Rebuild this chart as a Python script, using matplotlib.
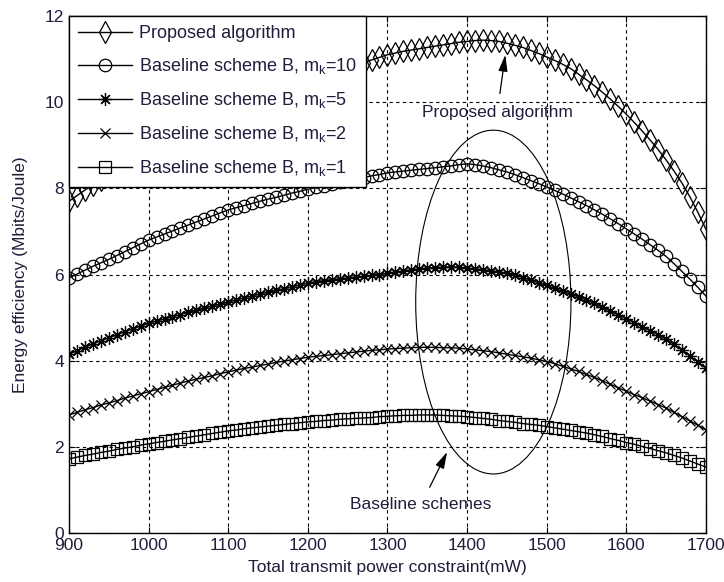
import numpy as np
import matplotlib
matplotlib.use("Agg")
import matplotlib.pyplot as plt
from matplotlib.patches import Ellipse

plt.rcParams['font.family'] = ['Liberation Sans', 'DejaVu Sans']
plt.rcParams['mathtext.fontset'] = 'custom'
plt.rcParams['mathtext.rm'] = 'Liberation Sans'

TXT = '#1e1e3c'

# total transmit power constraint (mW), one point every 10 mW
power = np.arange(900, 1701, 10)

proposed = [7.70, 7.83, 7.96, 8.08, 8.20, 8.31, 8.43, 8.55, 8.67, 8.78, 8.89,
            8.99, 9.09, 9.19, 9.29, 9.39, 9.48, 9.57, 9.66, 9.75, 9.84,
            9.92, 10.00, 10.07, 10.14, 10.21, 10.28, 10.34, 10.40, 10.45, 10.50,
            10.56, 10.62, 10.68, 10.74, 10.80, 10.86, 10.92, 10.98, 11.04, 11.10,
            11.14, 11.18, 11.21, 11.24, 11.27, 11.30, 11.33, 11.36, 11.39, 11.41,
            11.43, 11.44, 11.43, 11.41, 11.37, 11.32, 11.27, 11.20, 11.13, 11.05,
            10.97, 10.88, 10.78, 10.65, 10.52, 10.38, 10.23, 10.07, 9.90, 9.72,
            9.53, 9.33, 9.12, 8.90, 8.66, 8.40, 8.12, 7.80, 7.44, 7.05]

mk10 = [5.92, 6.01, 6.10, 6.19, 6.27, 6.35, 6.44, 6.53, 6.62, 6.71, 6.80,
        6.87, 6.94, 7.01, 7.08, 7.15, 7.22, 7.29, 7.36, 7.43, 7.50,
        7.55, 7.60, 7.65, 7.70, 7.75, 7.79, 7.84, 7.89, 7.93, 7.98,
        8.02, 8.06, 8.10, 8.14, 8.18, 8.21, 8.25, 8.29, 8.32, 8.36,
        8.38, 8.40, 8.42, 8.44, 8.46, 8.48, 8.50, 8.52, 8.55, 8.57,
        8.55, 8.52, 8.48, 8.43, 8.38, 8.32, 8.25, 8.18, 8.11, 8.03,
        7.95, 7.87, 7.78, 7.69, 7.60, 7.50, 7.40, 7.29, 7.18, 7.06,
        6.94, 6.82, 6.69, 6.56, 6.42, 6.25, 6.07, 5.89, 5.70, 5.50]

mk5 = [4.15, 4.23, 4.31, 4.39, 4.46, 4.53, 4.60, 4.67, 4.74, 4.80, 4.87,
       4.92, 4.97, 5.02, 5.07, 5.12, 5.17, 5.22, 5.27, 5.31, 5.36,
       5.41, 5.46, 5.50, 5.55, 5.59, 5.63, 5.67, 5.71, 5.76, 5.80,
       5.83, 5.86, 5.88, 5.90, 5.92, 5.94, 5.96, 5.98, 6.00, 6.03,
       6.06, 6.08, 6.11, 6.13, 6.15, 6.16, 6.17, 6.18, 6.17, 6.15,
       6.13, 6.11, 6.09, 6.06, 6.03, 5.98, 5.93, 5.87, 5.81, 5.75,
       5.68, 5.61, 5.55, 5.48, 5.41, 5.33, 5.24, 5.15, 5.06, 4.97,
       4.88, 4.79, 4.69, 4.60, 4.50, 4.38, 4.25, 4.11, 3.97, 3.82]

mk2 = [2.74, 2.80, 2.86, 2.91, 2.97, 3.02, 3.07, 3.13, 3.18, 3.23, 3.28,
       3.33, 3.38, 3.43, 3.48, 3.53, 3.57, 3.61, 3.65, 3.70, 3.74,
       3.78, 3.82, 3.85, 3.89, 3.92, 3.96, 3.99, 4.02, 4.05, 4.08,
       4.10, 4.12, 4.14, 4.16, 4.18, 4.20, 4.22, 4.24, 4.25, 4.27,
       4.28, 4.29, 4.30, 4.31, 4.31, 4.31, 4.30, 4.30, 4.29, 4.27,
       4.25, 4.23, 4.21, 4.18, 4.15, 4.12, 4.09, 4.06, 4.02, 3.98,
       3.93, 3.87, 3.81, 3.75, 3.68, 3.61, 3.53, 3.45, 3.37, 3.29,
       3.21, 3.14, 3.06, 2.98, 2.90, 2.80, 2.70, 2.60, 2.50, 2.39]

mk1 = [1.72, 1.76, 1.80, 1.83, 1.87, 1.90, 1.94, 1.97, 2.00, 2.04, 2.07,
       2.10, 2.13, 2.16, 2.19, 2.22, 2.25, 2.28, 2.31, 2.34, 2.37,
       2.39, 2.42, 2.44, 2.46, 2.48, 2.50, 2.52, 2.54, 2.56, 2.58,
       2.59, 2.61, 2.62, 2.64, 2.65, 2.66, 2.67, 2.68, 2.70, 2.71,
       2.72, 2.73, 2.73, 2.74, 2.74, 2.74, 2.73, 2.72, 2.71, 2.70,
       2.68, 2.66, 2.64, 2.61, 2.59, 2.57, 2.54, 2.52, 2.50, 2.47,
       2.44, 2.41, 2.38, 2.35, 2.32, 2.28, 2.24, 2.19, 2.15, 2.10,
       2.06, 2.01, 1.96, 1.91, 1.86, 1.80, 1.74, 1.67, 1.60, 1.53]

labels = ['Proposed algorithm',
          r'Baseline scheme B, m$_\mathregular{k}$=10',
          r'Baseline scheme B, m$_\mathregular{k}$=5',
          r'Baseline scheme B, m$_\mathregular{k}$=2',
          r'Baseline scheme B, m$_\mathregular{k}$=1']
series = [proposed, mk10, mk5, mk2, mk1]
markers = ['d', 'o', (8, 2, 0), 'x', 's']
msizes = [11, 9, 9, 7, 8]

fig = plt.figure(figsize=(7.24, 5.82), dpi=100)
ax = fig.add_axes([0.0953, 0.0842, 0.8797, 0.8883])

for y, lab, m, ms in zip(series, labels, markers, msizes):
    ax.plot(power, y, color='k', lw=1.0, marker=m, ms=ms, mfc='none',
            mec='k', mew=0.9, label=lab)

ax.set_xlim(900, 1700)
ax.set_ylim(0, 12)
ax.set_xticks(np.arange(900, 1701, 100))
ax.set_yticks(np.arange(0, 13, 2))
ax.grid(True, color='k', linestyle=(0, (3, 3)), linewidth=0.8)
ax.tick_params(direction='in', top=True, right=True, length=4,
               labelsize=12.5, labelcolor=TXT)
for s in ax.spines.values():
    s.set_linewidth(1.0)

ax.set_xlabel('Total transmit power constraint(mW)', fontsize=12.5, color=TXT, labelpad=5)
ax.set_ylabel('Energy efficiency (Mbits/Joule)', fontsize=12.5, color=TXT, labelpad=12)

leg = ax.legend(loc='upper left', fontsize=13, borderaxespad=0, fancybox=False,
                framealpha=1, edgecolor='k', handlelength=3.0, handletextpad=0.4,
                labelspacing=0.78, borderpad=0.5)
leg.get_frame().set_linewidth(1.0)
for t in leg.get_texts():
    t.set_color(TXT)

ax.add_patch(Ellipse((1433, 5.36), 195, 7.98, fill=False, edgecolor='k', lw=0.8))

ax.annotate('Proposed algorithm', xy=(1448, 11.1), xytext=(1438, 9.77),
            ha='center', va='center', fontsize=12.5, color=TXT,
            arrowprops=dict(arrowstyle='-|>,head_length=0.8,head_width=0.22',
                            color='k', lw=0.9, shrinkA=6, shrinkB=0))
ax.annotate('Baseline schemes', xy=(1375, 1.88), xytext=(1342, 0.65),
            ha='center', va='center', fontsize=12.5, color=TXT,
            arrowprops=dict(arrowstyle='-|>,head_length=0.8,head_width=0.22',
                            color='k', lw=0.9, shrinkA=6, shrinkB=0))

fig.savefig('out.png', dpi=100)
